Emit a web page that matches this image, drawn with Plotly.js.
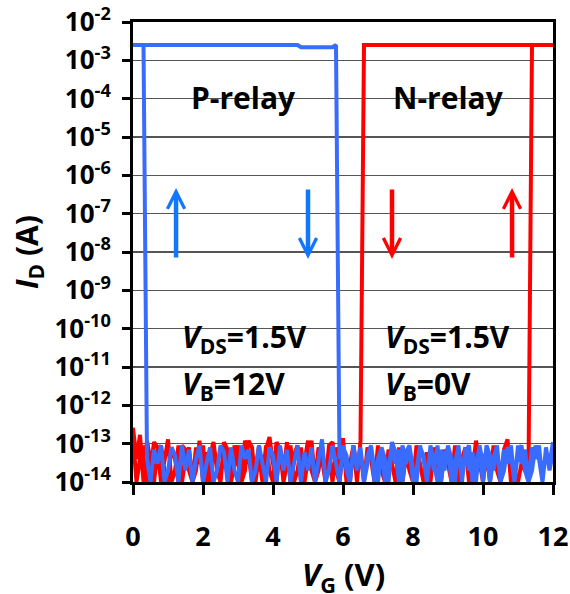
<!DOCTYPE html>
<html>
<head>
<meta charset="utf-8">
<script src="https://cdn.plot.ly/plotly-3.0.1.min.js"></script>
<style>html,body{margin:0;padding:0;background:#fff;}#chart{width:570px;height:594px;}</style>
</head>
<body>
<div id="chart"></div>
<script>
// ---- sweep settings ----
const stepV = 0.1;

// ---- P-relay (blue) ----
const pUpPlateauV = [0, 4.7, 4.8, 5.7, 5.8];
const pUpPlateauI = [2.5e-3, 2.5e-3, 2.2e-3, 2.2e-3, 2.5e-3];
const pUpNoiseStartV = 5.9;   // up sweep, 5.9 V -> 12 V
const pUpNoiseI = [
  4e-14,9e-14,2e-14,1e-14,7e-14,3e-14,8e-14,1e-14,5e-14,9e-14,
  2e-14,1e-14,8e-14,4e-14,1e-14,9e-14,3e-14,7e-14,1e-14,6e-14,
  9e-14,2e-14,1e-14,8e-14,5e-14,1e-14,9e-14,3e-14,1e-14,7e-14,
  2e-14,9e-14,4e-14,1e-14,8e-14,2e-14,6e-14,9e-14,1e-14,3e-14,
  8e-14,1e-14,9e-14,5e-14,2e-14,8e-14,1e-14,7e-14,3e-14,9e-14,
  1e-14,6e-14,9e-14,2e-14,1e-14,8e-14,4e-14,9e-14,1e-14,7e-14,
  3e-14,1.1e-13
];
const pDownNoiseStartV = 12;  // down sweep, 12 V -> 0.4 V
const pDownNoiseI = [
  6e-14,2e-14,8e-14,1e-14,4e-14,9e-14,2e-14,1e-14,7e-14,3e-14,
  9e-14,1e-14,5e-14,8e-14,2e-14,1e-14,9e-14,4e-14,1e-14,7e-14,
  3e-14,9e-14,1e-14,6e-14,2e-14,8e-14,1e-14,9e-14,3e-14,1e-14,
  8e-14,5e-14,1e-14,9e-14,2e-14,7e-14,1e-14,4e-14,9e-14,2e-14,
  1e-14,8e-14,3e-14,9e-14,1e-14,6e-14,1.1e-13,2e-14,1e-14,8e-14,
  4e-14,1e-14,9e-14,3e-14,1e-14,7e-14,2e-14,9e-14,1e-14,5e-14,
  8e-14,1e-14,3e-14,9e-14,2e-14,1e-14,1.3e-13,4e-14,1e-14,8e-14,
  2e-14,6e-14,1e-14,9e-14,3e-14,1e-14,7e-14,2e-14,9e-14,1e-14,
  5e-14,8e-14,1e-14,3e-14,9e-14,2e-14,1e-14,7e-14,4e-14,9e-14,
  1e-14,2e-14,8e-14,1e-14,6e-14,9e-14,2e-14,1e-14,8e-14,3e-14,
  1e-14,9e-14,4e-14,1e-14,7e-14,2e-14,9e-14,1e-14,5e-14,8e-14,
  2e-14,1e-14,9e-14,3e-14,7e-14,1e-14,4e-14
];
const pDownPlateauV = [0.3, 0];
const pDownPlateauI = [2.5e-3, 2.5e-3];

// ---- N-relay (red) ----
const nUpNoiseStartV = 0;     // up sweep, 0 V -> 11.3 V
const nUpNoiseI = [
  2.6e-13,4e-14,1.7e-13,1e-14,1.2e-13,3e-14,1e-14,6e-14,9e-14,2e-14,
  1e-14,8e-14,4e-14,1e-14,9e-14,7e-14,2e-14,1e-14,8e-14,3e-14,
  9e-14,1e-14,5e-14,1.1e-13,2e-14,1e-14,8e-14,4e-14,1e-14,9e-14,
  3e-14,1e-14,1.2e-13,6e-14,1e-14,2e-14,9e-14,1e-14,7e-14,1.5e-13,
  3e-14,1e-14,8e-14,2e-14,1.1e-13,1e-14,5e-14,9e-14,1e-14,3e-14,
  1.2e-13,2e-14,1e-14,8e-14,4e-14,1e-14,9e-14,1.1e-13,2e-14,1e-14,
  7e-14,3e-14,1e-14,9e-14,2e-14,6e-14,1e-14,8e-14,4e-14,1e-14,
  9e-14,2e-14,1e-14,7e-14,3e-14,1e-14,8e-14,1e-14,5e-14,2e-14,
  1e-14,9e-14,3e-14,1e-14,6e-14,1e-14,8e-14,2e-14,1e-14,7e-14,
  3e-14,1e-14,9e-14,1e-14,4e-14,8e-14,1e-14,2e-14,1.2e-13,3e-14,
  1e-14,6e-14,1e-14,9e-14,2e-14,1e-14,7e-14,1.3e-13,1e-14,2e-14,
  1e-14,3e-14,2e-14,2e-14
];
const nUpPlateauV = [11.4, 12];
const nUpPlateauI = [2.5e-3, 2.5e-3];
const nDownPlateauV = [12, 6.6];
const nDownPlateauI = [2.5e-3, 2.5e-3];
const nDownNoiseStartV = 6.5; // down sweep, 6.5 V -> 0 V
const nDownNoiseI = [
  1.2e-13,1e-14,9e-14,3e-14,1e-14,1.4e-13,2e-14,8e-14,1e-14,6e-14,
  1e-14,9e-14,2e-14,1e-14,1.2e-13,4e-14,1e-14,8e-14,2e-14,1e-14,
  9e-14,3e-14,1e-14,7e-14,1.1e-13,1e-14,2e-14,9e-14,1e-14,5e-14,
  1e-14,8e-14,1.2e-13,2e-14,1e-14,9e-14,3e-14,1e-14,7e-14,1.1e-13,
  1e-14,3e-14,9e-14,1e-14,6e-14,1e-14,1.2e-13,2e-14,1e-14,8e-14,
  4e-14,1e-14,9e-14,2e-14,1e-14,1.3e-13,3e-14,1e-14,8e-14,1.1e-13,
  2e-14,1e-14,9e-14,4e-14,1e-14,1.4e-13
];

// ---- axis ticks ----
const xTickVals = [0, 2, 4, 6, 8, 10, 12];
const yExponents = [-14,-13,-12,-11,-10,-9,-8,-7,-6,-5,-4,-3,-2];
const yTickVals = yExponents.map(e => Math.pow(10, e));
const yTickText = yExponents.map(e => '10<sup>' + e + '</sup>');

// ---- build sweeps ----
function grid(start, n, dir) {
  const out = [];
  for (let i = 0; i < n; i++) out.push(Math.round((start + dir * i * stepV) * 100) / 100);
  return out;
}
const pX = [].concat(pUpPlateauV, grid(pUpNoiseStartV, pUpNoiseI.length, 1),
                     grid(pDownNoiseStartV, pDownNoiseI.length, -1), pDownPlateauV);
const pY = [].concat(pUpPlateauI, pUpNoiseI, pDownNoiseI, pDownPlateauI);
const nX = [].concat(grid(nUpNoiseStartV, nUpNoiseI.length, 1), nUpPlateauV,
                     nDownPlateauV, grid(nDownNoiseStartV, nDownNoiseI.length, -1));
const nY = [].concat(nUpNoiseI, nUpPlateauI, nDownPlateauI, nDownNoiseI);

const FONT = 'Open Sans, Liberation Sans, sans-serif';
const blueLine = '#3a6bff', redLine = '#ff0000', blueArrow = '#1177ff';

const traces = [
  {x: nX, y: nY, type: 'scatter', mode: 'lines', line: {color: redLine, width: 4}, hoverinfo: 'skip'},
  {x: pX, y: pY, type: 'scatter', mode: 'lines', line: {color: blueLine, width: 4}, hoverinfo: 'skip'}
];

function arrow(x, y, ay, color) {
  return {x: x, y: y, xref: 'x', yref: 'y', ax: 0, ay: ay, text: '', showarrow: true,
          arrowhead: 5, arrowsize: 0.75, arrowwidth: 4.5, arrowcolor: color, standoff: 0};
}
function label(x, y, text, xanchor) {
  return {x: x, y: y, xref: 'x', yref: 'y', text: text, showarrow: false, xanchor: xanchor, yanchor: 'middle',
          font: {family: FONT, size: 30, color: '#000', weight: 'bold'}};
}

const layout = {
  width: 570, height: 594,
  margin: {l: 133, r: 17, t: 22, b: 112},
  paper_bgcolor: '#fff', plot_bgcolor: '#fff',
  showlegend: false,
  xaxis: {
    range: [0, 12], tickvals: xTickVals, ticks: 'outside', ticklen: 10, tickwidth: 3, tickcolor: '#000',
    showline: true, linewidth: 3, linecolor: '#000', mirror: true, showgrid: false, zeroline: false,
    ticklabelstandoff: 19,
    tickfont: {family: FONT, size: 27, color: '#000', weight: 'bold'}
  },
  yaxis: {
    type: 'log', range: [-14, -2], tickvals: yTickVals, ticktext: yTickText,
    ticks: 'outside', ticklen: 8, tickwidth: 3, tickcolor: '#000',
    showline: true, linewidth: 3, linecolor: '#000', mirror: true,
    showgrid: true, gridcolor: '#555', gridwidth: 1.5, zeroline: false,
    ticklabelstandoff: 6,
    tickfont: {family: FONT, size: 26, color: '#000', weight: 'bold'}
  },
  annotations: [
    label(3.17, -3.96, 'P-relay', 'center'),
    label(9.0, -3.96, 'N-relay', 'center'),
    label(1.34, -10.24, '<i>V</i><sub>DS</sub>=1.5V', 'left'),
    label(1.34, -11.47, '<i>V</i><sub>B</sub>=12V', 'left'),
    label(7.14, -10.24, '<i>V</i><sub>DS</sub>=1.5V', 'left'),
    label(7.14, -11.47, '<i>V</i><sub>B</sub>=0V', 'left'),
    arrow(1.23, -6.33, 71, blueArrow),
    arrow(5.0, -8.18, -71, blueArrow),
    arrow(7.4, -8.18, -71, redLine),
    arrow(10.83, -6.33, 71, redLine),
    {x: -0.25, y: 0.5, xref: 'paper', yref: 'paper', text: '<i>I</i><sub>D</sub> (A)', showarrow: false,
     textangle: -90, xanchor: 'center', yanchor: 'middle',
     font: {family: FONT, size: 30, color: '#000', weight: 'bold'}},
    {x: 0.5, y: -0.205, xref: 'paper', yref: 'paper', text: '<i>V</i><sub>G</sub> (V)', showarrow: false,
     xanchor: 'center', yanchor: 'middle',
     font: {family: FONT, size: 31, color: '#000', weight: 'bold'}}
  ]
};

Plotly.newPlot('chart', traces, layout, {staticPlot: true, displayModeBar: false});
</script>
</body>
</html>
